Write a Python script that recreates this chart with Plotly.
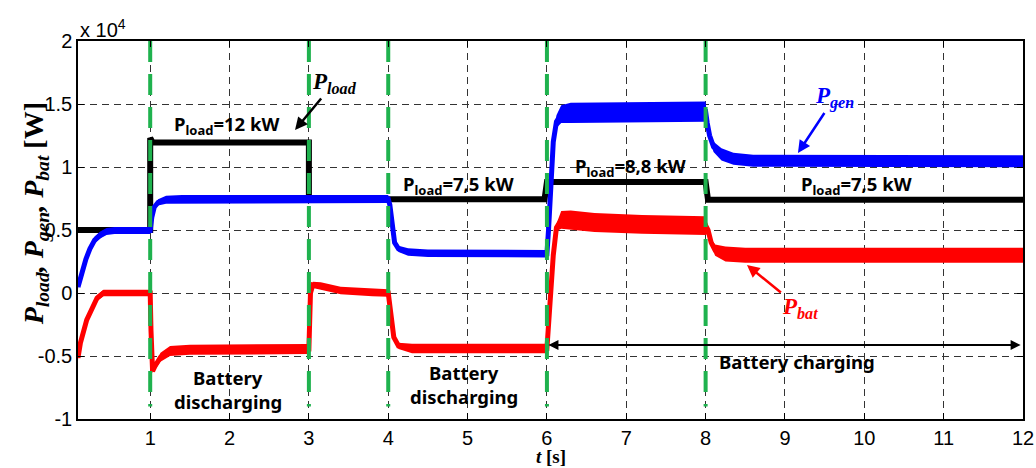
import plotly.graph_objects as go

# ---------------- data (W, s) ----------------
t_load = [0.09, 1.0, 1.0, 1.01, 1.03, 3.0, 3.0, 5.97, 5.99, 6.0, 8.0, 8.02, 8.03, 12.0]
p_load = [5000, 5000, 12300, 12100, 11950, 11950, 7450, 7450, 8000, 8800, 8800, 8000, 7400, 7400]

t_gen = [0.09, 0.14, 0.19, 0.24, 0.30, 0.37, 0.45, 0.55, 1.0,
         1.02, 1.05, 1.1, 1.2, 1.4, 4.0,
         4.02, 4.05, 4.08, 4.13, 4.25, 4.5, 6.0,
         6.02, 6.05, 6.08, 6.12, 6.18, 6.3, 8.0,
         8.02, 8.05, 8.1, 8.2, 8.35, 8.6, 12.0]
p_gen = [480, 1700, 2700, 3500, 4200, 4600, 4880, 4960, 4960,
         6000, 6800, 7200, 7400, 7460, 7460,
         7000, 5000, 4000, 3500, 3250, 3150, 3120,
         5000, 9000, 12000, 13600, 14200, 14300, 14400,
         13500, 12500, 11600, 11000, 10650, 10500, 10450]
hw_gen = [150, 200, 250, 280, 280, 280, 280, 280, 280,
          150, 150, 250, 320, 320, 320,
          150, 150, 150, 250, 300, 300, 300,
          150, 150, 300, 500, 700, 800, 800,
          300, 300, 400, 480, 480, 480, 480]

t_bat = [0.09, 0.12, 0.2, 0.27, 0.33, 0.41, 0.5, 1.0,
         1.01, 1.03, 1.06, 1.13, 1.25, 1.5, 3.0,
         3.02, 3.05, 3.15, 3.4, 3.8, 4.0,
         4.03, 4.07, 4.13, 4.3, 6.0,
         6.03, 6.08, 6.12, 6.18, 6.3, 6.6, 7.2, 8.0,
         8.03, 8.07, 8.12, 8.25, 8.5, 12.0]
p_bat = [-5150, -3970, -2140, -1110, -400, 0, 0, 0,
         -3000, -6200, -5800, -5100, -4600, -4500, -4450,
         0, 650, 550, 200, 50, 0,
         -1500, -3500, -4200, -4400, -4400,
         -1000, 3000, 5200, 5800, 5800, 5600, 5450, 5350,
         5000, 4000, 3400, 3100, 3000, 3000]
hw_bat = [150, 200, 250, 250, 250, 250, 250, 250,
          150, 150, 250, 350, 400, 400, 400,
          150, 250, 300, 300, 300, 300,
          150, 150, 250, 380, 380,
          150, 150, 300, 700, 750, 750, 750, 750,
          300, 300, 450, 600, 600, 600]

switch_times = [1, 3, 4, 6, 8]
x_ticks = list(range(1, 13))
y_ticks = [-10000, -5000, 0, 5000, 10000, 15000, 20000]
y_tick_text = ["-1", "-0.5", "0", "0.5", "1", "1.5", "2"]

# ---------------- figure ----------------
fig = go.Figure()

def band(t, c, hw, color):
    up = [a + b for a, b in zip(c, hw)]
    lo = [a - b for a, b in zip(c, hw)]
    fig.add_trace(go.Scatter(x=t + t[::-1], y=up + lo[::-1], fill="toself",
                             fillcolor=color, line=dict(width=0), mode="lines",
                             hoverinfo="skip", showlegend=False))
    fig.add_trace(go.Scatter(x=t, y=c, mode="lines", line=dict(color=color, width=5),
                             showlegend=False))

fig.add_trace(go.Scatter(x=t_load, y=p_load, mode="lines",
                         line=dict(color="#000000", width=6), showlegend=False))
band(t_bat, p_bat, hw_bat, "#FF0000")
band(t_gen, p_gen, hw_gen, "#0000FF")

for ts in switch_times:
    fig.add_trace(go.Scatter(x=[ts, ts], y=[20000, -9000], mode="lines",
                             line=dict(color="#1fb24e", width=4, dash="21px,12px"),
                             showlegend=False))

lbl_font = dict(family="Noto Sans, Lato, sans-serif", size=18.5, color="#000000", weight=700)
ann = []
for x, y, txt in [(1.96, 13300, "P<sub>load</sub>=12 kW"),
                  (4.88, 8600, "P<sub>load</sub>=7,5 kW"),
                  (7.05, 10000, "P<sub>load</sub>=8,8 kW"),
                  (9.9, 8600, "P<sub>load</sub>=7,5 kW"),
                  (1.98, -6700, "Battery"),
                  (1.98, -8600, "discharging"),
                  (4.95, -6300, "Battery"),
                  (4.95, -8200, "discharging"),
                  (9.15, -5400, "Battery charging")]:
    ann.append(dict(x=x, y=y, text=txt, showarrow=False, font=lbl_font))

serif = "Liberation Serif, Times New Roman, serif"
ann.append(dict(x=2.825, y=12937, ax=39, ay=-47, text="<b><i>P<sub>load</sub></i></b>",
                showarrow=True, arrowhead=2, arrowwidth=2.5, arrowsize=1, arrowcolor="#000000",
                font=dict(family=serif, size=23, color="#000000")))
ann.append(dict(x=9.164, y=11111, ax=37, ay=-56, text="<b><i>P<sub>gen</sub></i></b>",
                showarrow=True, arrowhead=2, arrowwidth=2.5, arrowsize=1, arrowcolor="#0000FF",
                font=dict(family=serif, size=23, color="#0000FF")))
ann.append(dict(x=8.521, y=2222, ax=53, ay=43, text="<b><i>P<sub>bat</sub></i></b>",
                showarrow=True, arrowhead=2, arrowwidth=2.5, arrowsize=1, arrowcolor="#FF0000",
                font=dict(family=serif, size=23, color="#FF0000")))
ann.append(dict(x=11.97, y=-4130, ax=6.0, ay=-4130, axref="x", ayref="y", text="",
                showarrow=True, arrowhead=2, startarrowhead=2, arrowside="end+start",
                arrowwidth=2, arrowsize=1, startarrowsize=1, arrowcolor="#000000"))
ann.append(dict(x=0, y=1, xref="paper", yref="paper", xanchor="left", yanchor="bottom",
                text="x 10<sup>4</sup>", showarrow=False, yshift=-2,
                font=dict(family="Liberation Sans, Arial, sans-serif", size=20, color="#000000")))
ann.append(dict(x=-0.066, y=0.542, xref="paper", yref="paper", textangle=-90,
                text="<b><i>P<sub>load</sub>, P<sub>gen</sub>, P<sub>bat</sub></i> [W]</b>",
                showarrow=False, font=dict(family=serif, size=28, color="#000000")))
ann.append(dict(x=0.5, y=-0.1296, xref="paper", yref="paper", yanchor="bottom",
                text="<b><i>t</i> [s]</b>", showarrow=False, borderpad=0,
                font=dict(family=serif, size=19, color="#000000")))

axis_common = dict(showline=True, linecolor="#000000", linewidth=1.5, mirror="allticks",
                   ticks="inside", ticklen=6, tickcolor="#000000", showgrid=True,
                   gridcolor="#333333", gridwidth=1, griddash="7px,5px", zeroline=False,
                   tickfont=dict(family="Liberation Sans, Arial, sans-serif", size=20, color="#000000"))

fig.update_layout(
    width=1036, height=468,
    margin=dict(l=78, r=13, t=41, b=49, autoexpand=False),
    paper_bgcolor="white", plot_bgcolor="white",
    xaxis=dict(range=[0.09, 12.0], tickvals=x_ticks, automargin=False, **axis_common),
    yaxis=dict(range=[-10000, 20000], tickvals=y_ticks, ticktext=y_tick_text, automargin=False,
               **axis_common),
    annotations=ann,
    showlegend=False,
)

fig.write_html("out.html", config={"displayModeBar": False},
               post_script="document.body.style.margin='0';document.body.style.overflow='hidden';")
